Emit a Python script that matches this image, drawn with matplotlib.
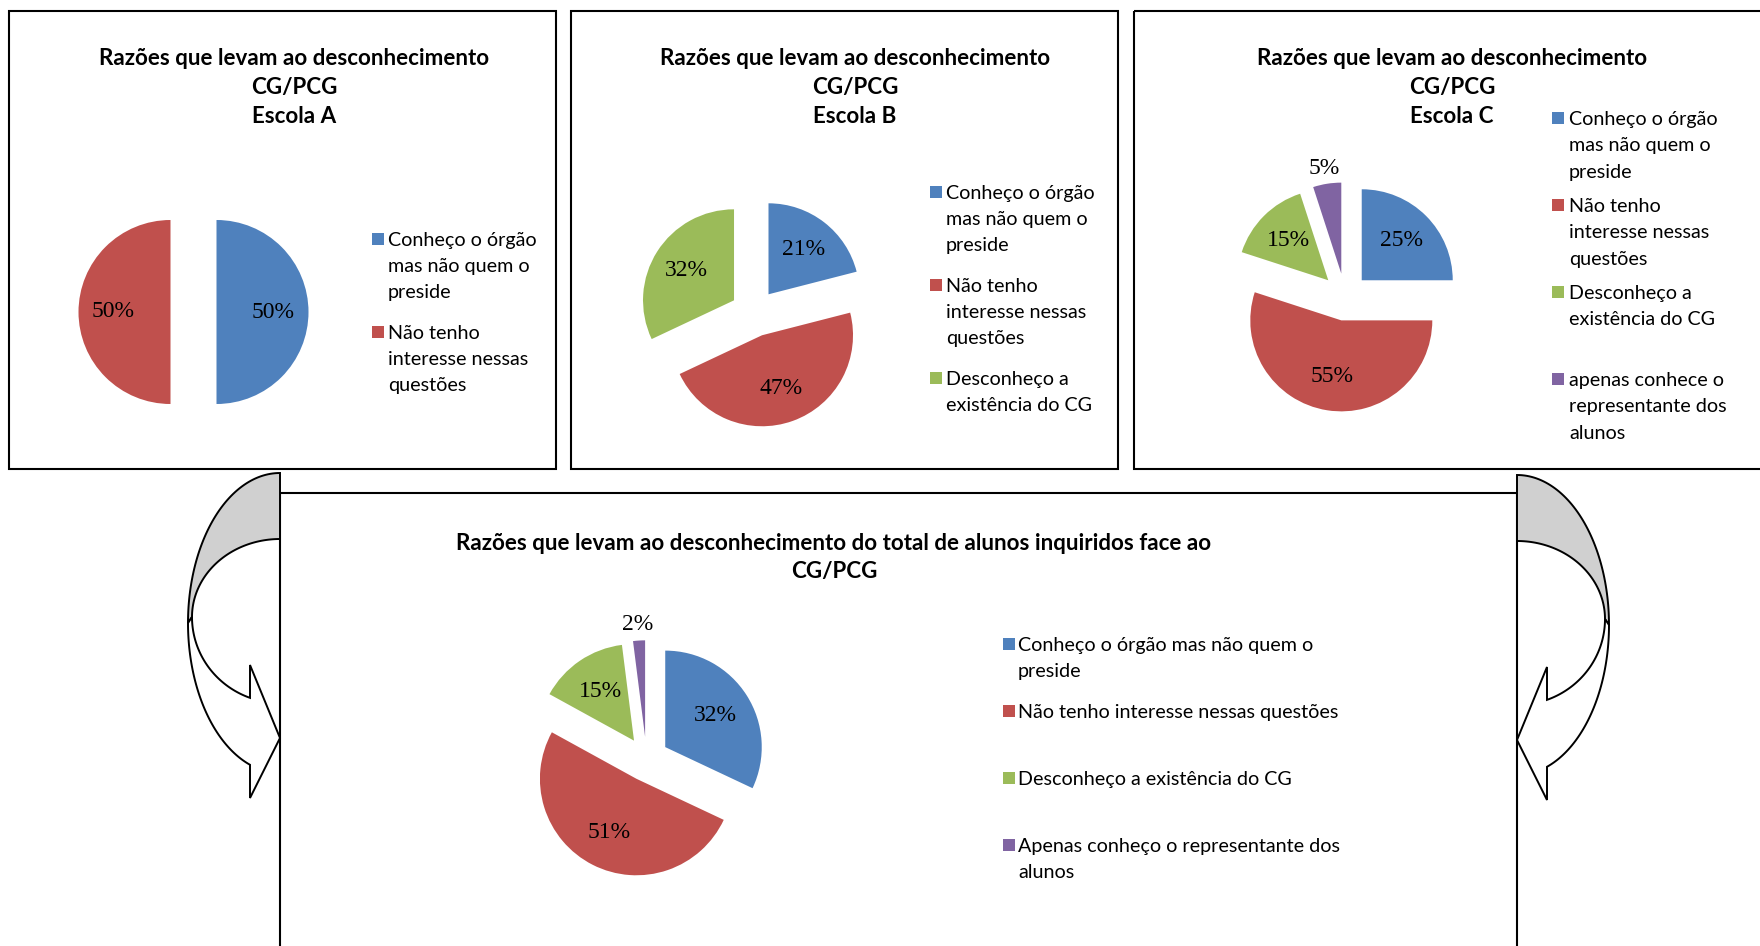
import numpy as np
import matplotlib
matplotlib.use("Agg")
import matplotlib.pyplot as plt
from matplotlib.patches import Rectangle, Polygon

W, H = 1760, 946
DPI = 100

# ---- data -------------------------------------------------------------
pie_colors = ["#4F81BD", "#C0504D", "#9BBB59", "#8064A2"]

escola_a_values = [50, 50]
escola_b_values = [21, 47, 32]
escola_c_values = [25, 55, 15, 5]
total_values = [32, 51, 15, 2]

legend_a = ["Conheço o órgão\nmas não quem o\npreside",
            "Não tenho\ninteresse nessas\nquestões"]
legend_b = legend_a + ["Desconheço a\nexistência do CG"]
legend_c = legend_b + ["apenas conhece o\nrepresentante dos\nalunos"]
legend_total = ["Conheço o órgão mas não quem o\npreside",
                "Não tenho interesse nessas questões",
                "Desconheço a existência do CG",
                "Apenas conheço o representante dos\nalunos"]

title_top = "Razões que levam ao desconhecimento\nCG/PCG"
school_names = ["Escola A", "Escola B", "Escola C"]
title_total = ("Razões que levam ao desconhecimento do total de alunos "
               "inquiridos face ao\nCG/PCG")

# ---- styles -----------------------------------------------------------
TITLE_FONT = dict(family=["Lato", "DejaVu Sans"], fontweight="bold",
                  fontsize=16.1, color="black")
LEGEND_FONT = dict(family=["Lato", "DejaVu Sans"], fontsize=14.2,
                   color="black")
PCT_FONT = dict(family=["Liberation Serif", "DejaVu Serif"], fontsize=17,
                color="black")

fig = plt.figure(figsize=(W / DPI, H / DPI), dpi=DPI)
bg = fig.add_axes([0, 0, 1, 1])
bg.set_xlim(0, W)
bg.set_ylim(H, 0)
bg.axis("off")


def frame(x0, y0, x1, y1):
    bg.add_patch(Rectangle((x0, y0), x1 - x0, y1 - y0, fill=False,
                           edgecolor="black", linewidth=1.5, zorder=2))


def title(lines, xc, y0, step):
    for i, line in enumerate(lines.split("\n")):
        bg.text(xc, y0 + i * step, line, ha="center", va="baseline",
                **TITLE_FONT)


def legend(labels, x_sq, x_txt, y0, entry_step, line_step):
    for k, lab in enumerate(labels):
        yb = y0 + k * entry_step
        bg.add_patch(Rectangle((x_sq, yb - 13), 12, 12,
                               facecolor=pie_colors[k], edgecolor="none",
                               zorder=3))
        for j, line in enumerate(lab.split("\n")):
            bg.text(x_txt, yb + j * line_step, line, ha="left",
                    va="baseline", **LEGEND_FONT)


def pie(cx, cy, r, values, explode):
    S = r * 1.75
    ax = fig.add_axes([(cx - S) / W, (H - cy - S) / H, 2 * S / W, 2 * S / H])
    wedges, _, autotexts = ax.pie(
        values, colors=pie_colors[:len(values)], startangle=90,
        counterclock=False, explode=[explode] * len(values),
        autopct=lambda p: f"{p:.0f}%", pctdistance=0.62,
        wedgeprops=dict(linewidth=0), textprops=PCT_FONT)
    lim = S / r
    ax.set_xlim(-lim, lim)
    ax.set_ylim(-lim, lim)
    # thin slices get their label just outside the rim
    for w, t, v in zip(wedges, autotexts, values):
        if v < 10:
            ang = np.deg2rad((w.theta1 + w.theta2) / 2)
            x, y = w.center
            t.set_position((x + 1.17 * np.cos(ang), y + 1.17 * np.sin(ang)))
    return ax


def curved_arrow(edge, side, dy=0.0):
    """Curved arrow hugging a panel edge; side=-1 bulges left, +1 right."""
    def ell(cy, a, b, t):
        return np.column_stack([edge + side * a * np.sin(t),
                                cy + dy - b * np.cos(t)])
    oc, oa, ob = 623, 92, 150
    ic, ia = 617, 88
    back_b, front_b = 78, 86
    barb = 30
    t_half = np.pi / 2
    back = np.vstack([ell(oc, oa, ob, np.linspace(0, t_half, 60)),
                      ell(ic, ia, back_b, np.linspace(t_half, 0, 60))])
    t_out_end = np.pi - np.arcsin(barb / oa)
    t_in_end = np.pi - np.arcsin(barb / ia)
    head = np.array([[edge + side * barb, 798 + dy],
                     [edge, 738 + dy],
                     [edge + side * barb, 665 + dy]])
    front = np.vstack([ell(oc, oa, ob, np.linspace(t_half, t_out_end, 60)),
                       head,
                       ell(ic, ia, front_b, np.linspace(t_in_end, t_half, 60))])
    bg.add_patch(Polygon(back, closed=True, facecolor="#d0d0d0",
                         edgecolor="black", linewidth=1.4, zorder=4))
    bg.add_patch(Polygon(front, closed=True, facecolor="white",
                         edgecolor="black", linewidth=1.4, zorder=4))


# ---- panels -----------------------------------------------------------
frame(9, 11, 556, 469)
frame(571, 11, 1118, 469)
frame(1134, 11, 1775, 469)
frame(280, 493, 1517, 960)

for xc, name in zip([294, 855, 1452], school_names):
    title(title_top + "\n" + name, xc, 65, 29)
title(title_total, 834, 550, 28)

legend(legend_a, 372, 388, 246, 93, 26)
legend(legend_b, 930, 946, 199, 93, 26)
legend(legend_c, 1552, 1569, 125, 87, 26.3)
legend(legend_total, 1003, 1018, 651, 67, 26)

pie(193.5, 312, 92, escola_a_values, 0.25)
pie(754, 313, 91, escola_b_values, 0.26)
pie(1345, 297, 91, escola_c_values, 0.26)
pie(646.5, 759, 96.5, total_values, 0.23)

curved_arrow(280, -1)
curved_arrow(1517, +1, dy=2)

fig.savefig("out.png", dpi=DPI)
